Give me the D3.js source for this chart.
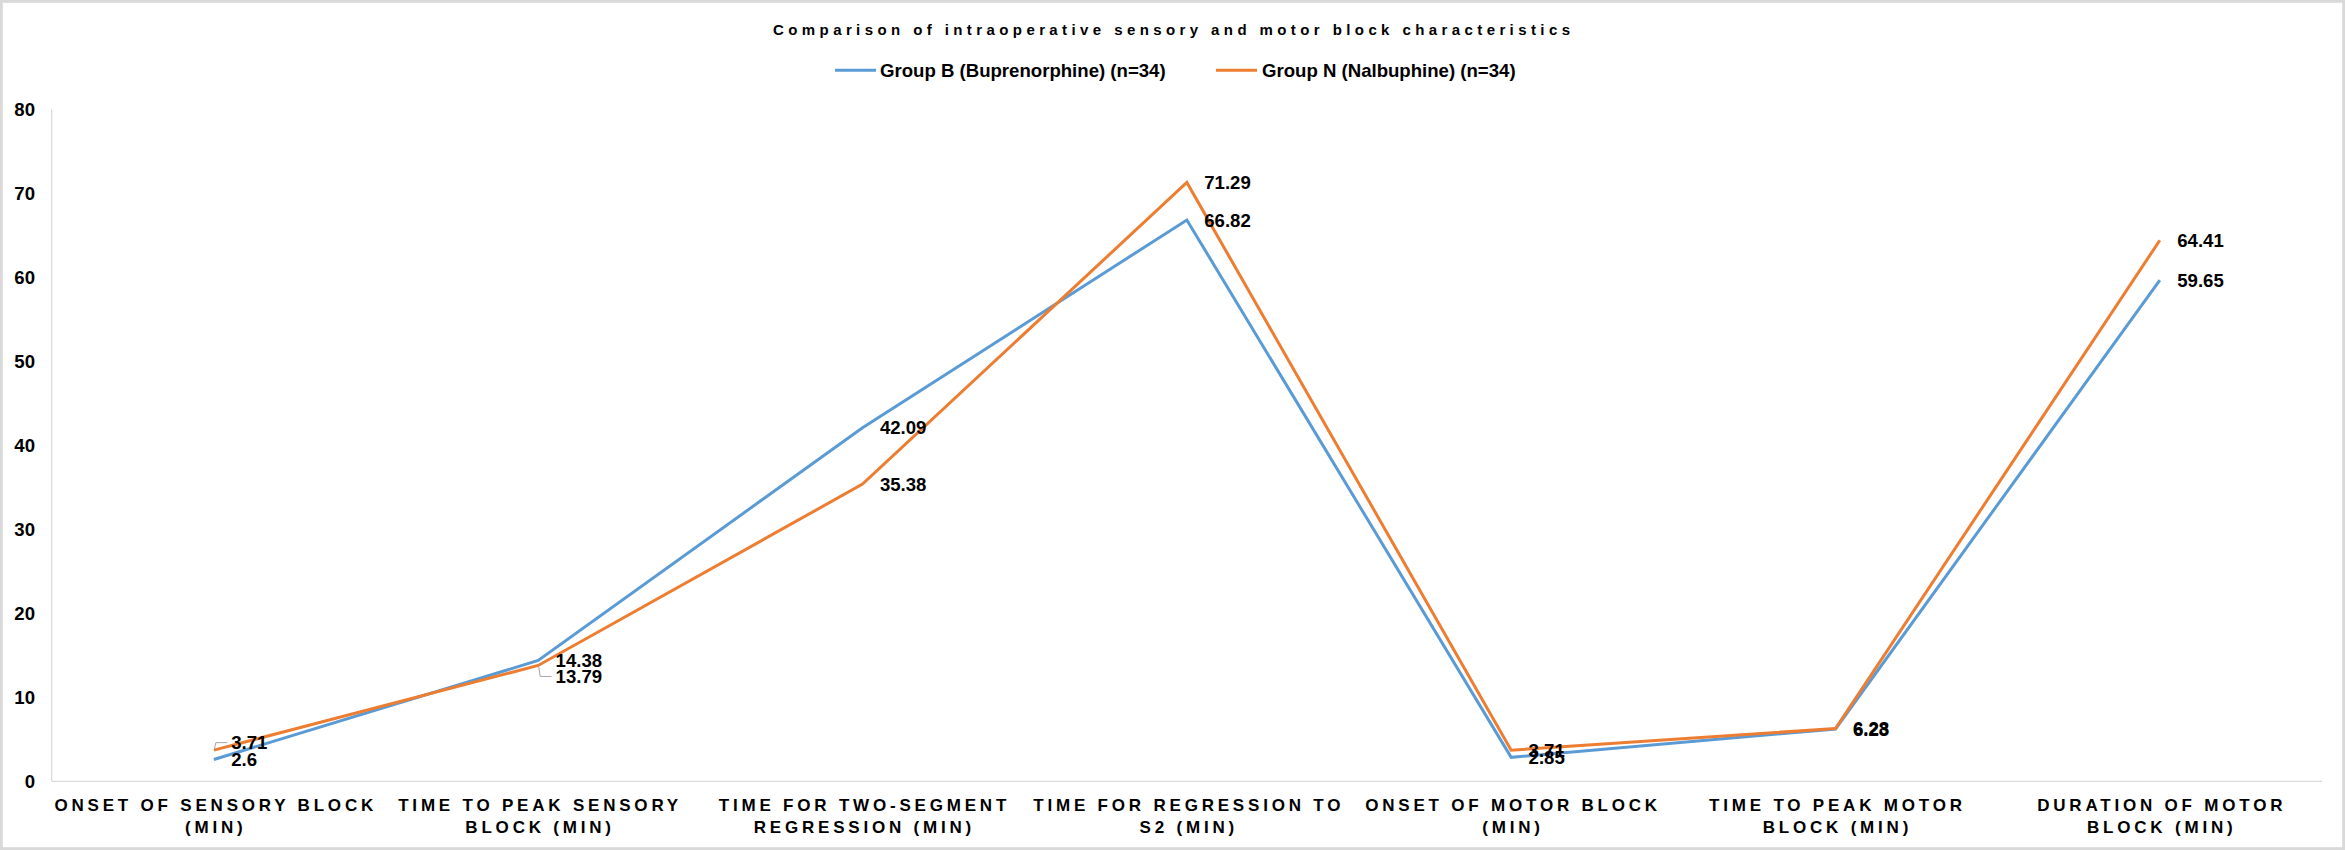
<!DOCTYPE html>
<html>
<head>
<meta charset="utf-8">
<script src="https://cdn.jsdelivr.net/npm/d3@7"></script>
<style>
  html, body { margin: 0; padding: 0; background: #ffffff; }
  svg { display: block; }
  text { font-family: "Liberation Sans", Arial, sans-serif; font-weight: bold; fill: #000; }
</style>
</head>
<body>
<svg id="chart" width="2345" height="850"></svg>
<script>
// ---- data ----
const categories = [
  ["ONSET OF SENSORY BLOCK", "(MIN)"],
  ["TIME TO PEAK SENSORY", "BLOCK (MIN)"],
  ["TIME FOR TWO-SEGMENT", "REGRESSION (MIN)"],
  ["TIME FOR REGRESSION TO", "S2 (MIN)"],
  ["ONSET OF MOTOR BLOCK", "(MIN)"],
  ["TIME TO PEAK MOTOR", "BLOCK (MIN)"],
  ["DURATION OF MOTOR", "BLOCK (MIN)"]
];
const seriesNames = ["Group B (Buprenorphine) (n=34)", "Group N (Nalbuphine) (n=34)"];
const groupB = [2.6, 14.38, 42.09, 66.82, 2.85, 6.23, 59.65];
const groupN = [3.71, 13.79, 35.38, 71.29, 3.71, 6.28, 64.41];
const yTicks = [0, 10, 20, 30, 40, 50, 60, 70, 80];
const titleText = "Comparison of intraoperative sensory and motor block characteristics";

// ---- layout / style ----
const W = 2345, H = 850;
const plot = { left: 51.7, right: 2322, top: 109.3, bottom: 781.3 };
const colors = ["#5B9BD5", "#ED7D31"];
// label nudges (layout only): [seriesIndex, pointIndex] -> dy in px
const labelNudge = { "1-0": -7.5, "1-1": 11 };

const svg = d3.select("#chart");

// outer border
svg.append("rect")
  .attr("x", 1.4).attr("y", 1.4).attr("width", W - 2.8).attr("height", H - 2.8)
  .attr("fill", "#fff").attr("stroke", "#d9d9d9").attr("stroke-width", 2.8);

const x = d3.scaleBand().domain(d3.range(categories.length))
  .range([plot.left, plot.right]).padding(0);
const cx = i => x(i) + x.bandwidth() / 2;
const y = d3.scaleLinear().domain([0, 80]).range([plot.bottom, plot.top]);

// axis lines
svg.append("line").attr("x1", plot.left).attr("x2", plot.left)
  .attr("y1", y(80)).attr("y2", y(0)).attr("stroke", "#d9d9d9").attr("stroke-width", 1.2);
svg.append("line").attr("x1", plot.left).attr("x2", plot.right)
  .attr("y1", y(0)).attr("y2", y(0)).attr("stroke", "#d9d9d9").attr("stroke-width", 1.2);

// y tick labels
svg.append("g").selectAll("text").data(yTicks).join("text")
  .attr("x", 35).attr("y", d => y(d)).attr("dy", "0.358em")
  .attr("text-anchor", "end").attr("font-size", 18.6)
  .text(d => d);

// x labels
const xLS = 3.8;
const xg = svg.append("g");
categories.forEach((lines, i) => {
  lines.forEach((ln, j) => {
    xg.append("text")
      .attr("x", cx(i) + xLS / 2).attr("y", 810.7 + j * 22)
      .attr("text-anchor", "middle").attr("font-size", 17)
      .attr("letter-spacing", xLS + "px")
      .text(ln);
  });
});

// title
svg.append("text")
  .attr("x", 773).attr("y", 35)
  .attr("font-size", 15)
  .attr("textLength", 797).attr("lengthAdjust", "spacing")
  .text(titleText);

// legend
const legendItems = [
  { sw: [835, 876], tx: 880 },
  { sw: [1216, 1257], tx: 1262 }
];
legendItems.forEach((it, k) => {
  svg.append("line").attr("x1", it.sw[0]).attr("x2", it.sw[1])
    .attr("y1", 70.3).attr("y2", 70.3)
    .attr("stroke", colors[k]).attr("stroke-width", 3);
  svg.append("text").attr("x", it.tx).attr("y", 70.3).attr("dy", "0.358em")
    .attr("font-size", 18.6).text(seriesNames[k]);
});

// lines
const allSeries = [groupB, groupN];
const line = d3.line().x((d, i) => cx(i)).y(d => y(d));
allSeries.forEach((s, k) => {
  svg.append("path").datum(s)
    .attr("fill", "none").attr("stroke", colors[k]).attr("stroke-width", 3)
    .attr("stroke-linejoin", "miter")
    .attr("d", line);
});

// data labels
allSeries.forEach((s, k) => {
  s.forEach((v, i) => {
    const px = cx(i), py = y(v);
    const nudge = labelNudge[k + "-" + i] || 0;
    const lx = px + 17.4, ly = py + nudge;
    if (nudge !== 0) {
      svg.append("polyline")
        .attr("points", [[px + 0.5, py + (nudge < 0 ? -1 : 1)], [px + 2, ly], [lx - 4, ly]].map(p => p.join(",")).join(" "))
        .attr("fill", "none").attr("stroke", "#a6a6a6").attr("stroke-width", 1);
    }
    svg.append("text").attr("x", lx).attr("y", ly).attr("dy", "0.358em")
      .attr("font-size", 18.6).text(v);
  });
});
</script>
</body>
</html>
